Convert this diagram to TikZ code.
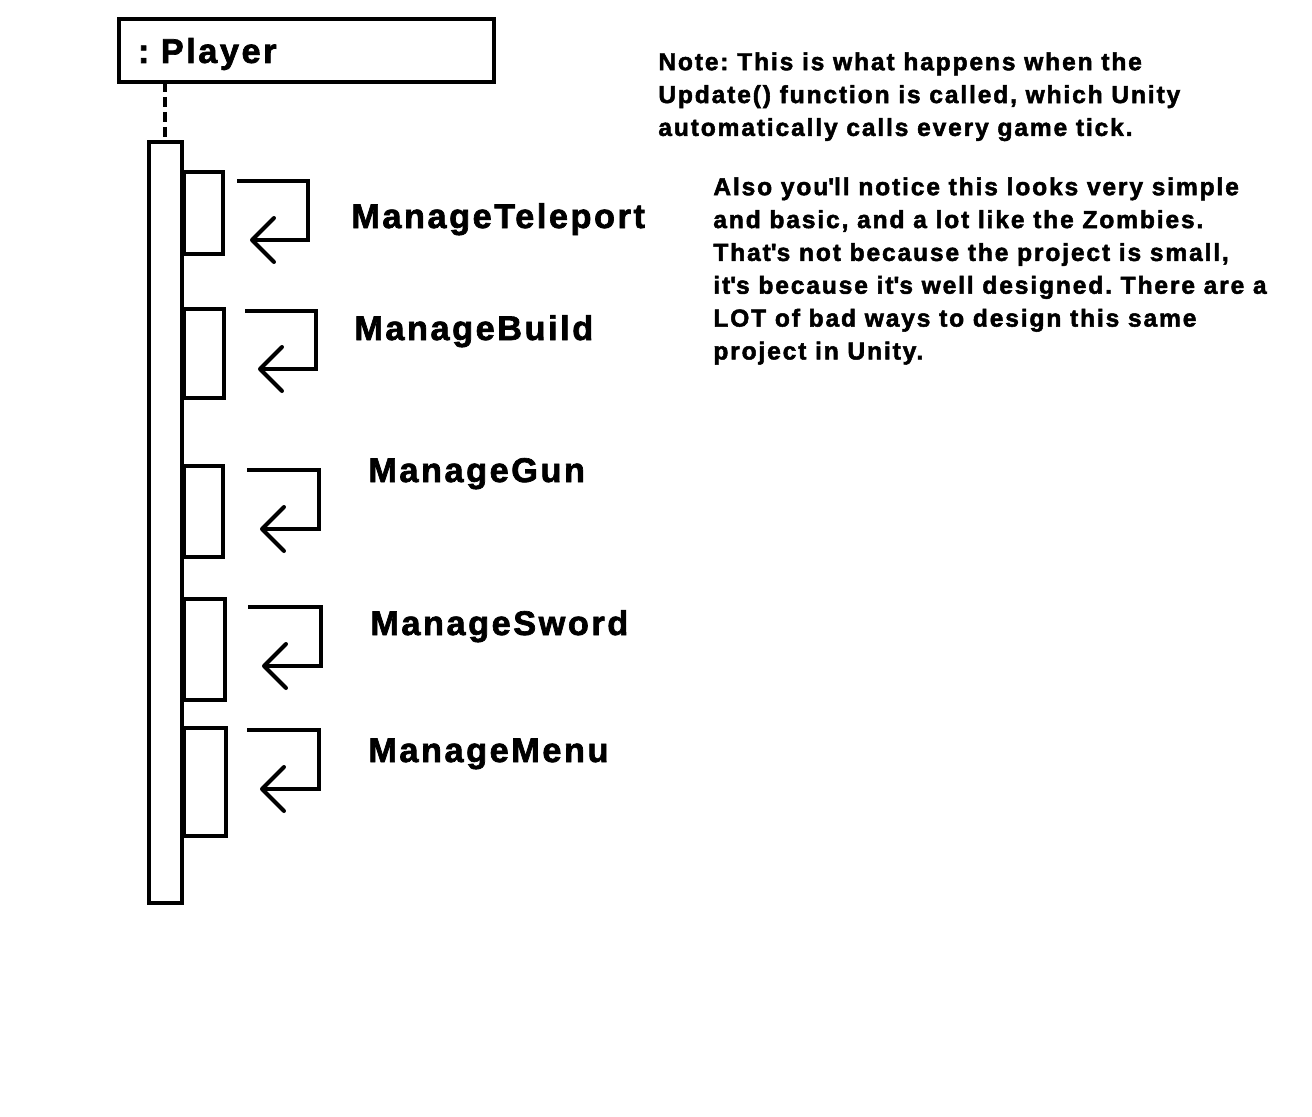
\documentclass[tikz,border=0pt]{standalone}
\usepackage{fontspec}
\setmainfont{Liberation Sans}[BoldFont={Liberation Sans Bold}, BoldFeatures={FakeBold=2}, LetterSpace=7.5]
\frenchspacing
\usetikzlibrary{arrows.meta, positioning}

\begin{document}
\begin{tikzpicture}[x=0.02cm, y=-0.02cm,
    box/.style={rectangle, draw=black, line width=0.08cm, inner sep=0pt, outer sep=0pt, anchor=north west},
    headbox/.style={box, text width=6.74cm, inner xsep=0.38cm, minimum height=1.26cm, align=left, text depth=0pt, font=\fontsize{19.5}{23}\selectfont\bfseries},
    call/.style={line width=0.08cm, -{Straight Barb[length=0.44cm, width=0.88cm, round]}},
    fname/.style={anchor=base west, inner sep=0pt, font=\fontsize{19.5}{23}\selectfont\bfseries},
    notetext/.style={anchor=north west, inner sep=0pt, align=left, font=\fontsize{14}{18.7}\selectfont\bfseries}]

    \useasboundingbox (0,0) rectangle (1312,1116);

    \node[headbox] (player) at (119,19) {: Player};
    \node[box, minimum width=0.66cm, minimum height=15.22cm] (bar) at (149,142) {};
    \draw[line width=0.08cm, dash pattern=on 0.2cm off 0.1cm] (player.south -| bar.north) -- (bar.north);

    \node[box, minimum width=0.78cm, minimum height=1.64cm] (teleport) at (184,172) {};
    \node[box, below=1.1cm of teleport.south west, anchor=north west, minimum width=0.8cm, minimum height=1.78cm] (build) {};
    \node[box, below=1.36cm of build.south west, anchor=north west, minimum width=0.78cm, minimum height=1.82cm] (gun) {};
    \node[box, below=0.84cm of gun.south west, anchor=north west, minimum width=0.82cm, minimum height=2.02cm] (sword) {};
    \node[box, below=0.56cm of sword.south west, anchor=north west, minimum width=0.84cm, minimum height=2.16cm] (menu) {};

    \coordinate (teleportout) at (237,181);
    \coordinate (teleportin) at (250,240);
    \coordinate (buildout) at (245,311);
    \coordinate (buildin) at (258,369);
    \coordinate (gunout) at (247,470);
    \coordinate (gunin) at (260,529);
    \coordinate (swordout) at (248,607);
    \coordinate (swordin) at (262,666);
    \coordinate (menuout) at (247,730);
    \coordinate (menuin) at (260,789);

    \draw[call] (teleportout) -- ++(71,0) |- (teleportin);
    \draw[call] (buildout) -- ++(71,0) |- (buildin);
    \draw[call] (gunout) -- ++(72,0) |- (gunin);
    \draw[call] (swordout) -- ++(73,0) |- (swordin);
    \draw[call] (menuout) -- ++(72,0) |- (menuin);

    \node[fname] (teleportlbl) at (351,228) {ManageTeleport};
    \node[fname] (buildlbl) at (354,340) {ManageBuild};
    \node[fname] (gunlbl) at (368,482) {ManageGun};
    \node[fname] (swordlbl) at (370,635) {ManageSword};
    \node[fname] (menulbl) at (368,762) {ManageMenu};

    \node[notetext] (note) at (658,52) {Note: This is what happens when the\\Update() function is called, which Unity\\automatically calls every game tick.};
    \node[notetext] (also) at (713,177) {Also you\textquotesingle ll notice this looks very simple\\and basic, and a lot like the Zombies.\\That\textquotesingle s not because the project is small,\\it\textquotesingle s because it\textquotesingle s well designed. There are a\\LOT of bad ways to design this same\\project in Unity.};
\end{tikzpicture}
\end{document}
